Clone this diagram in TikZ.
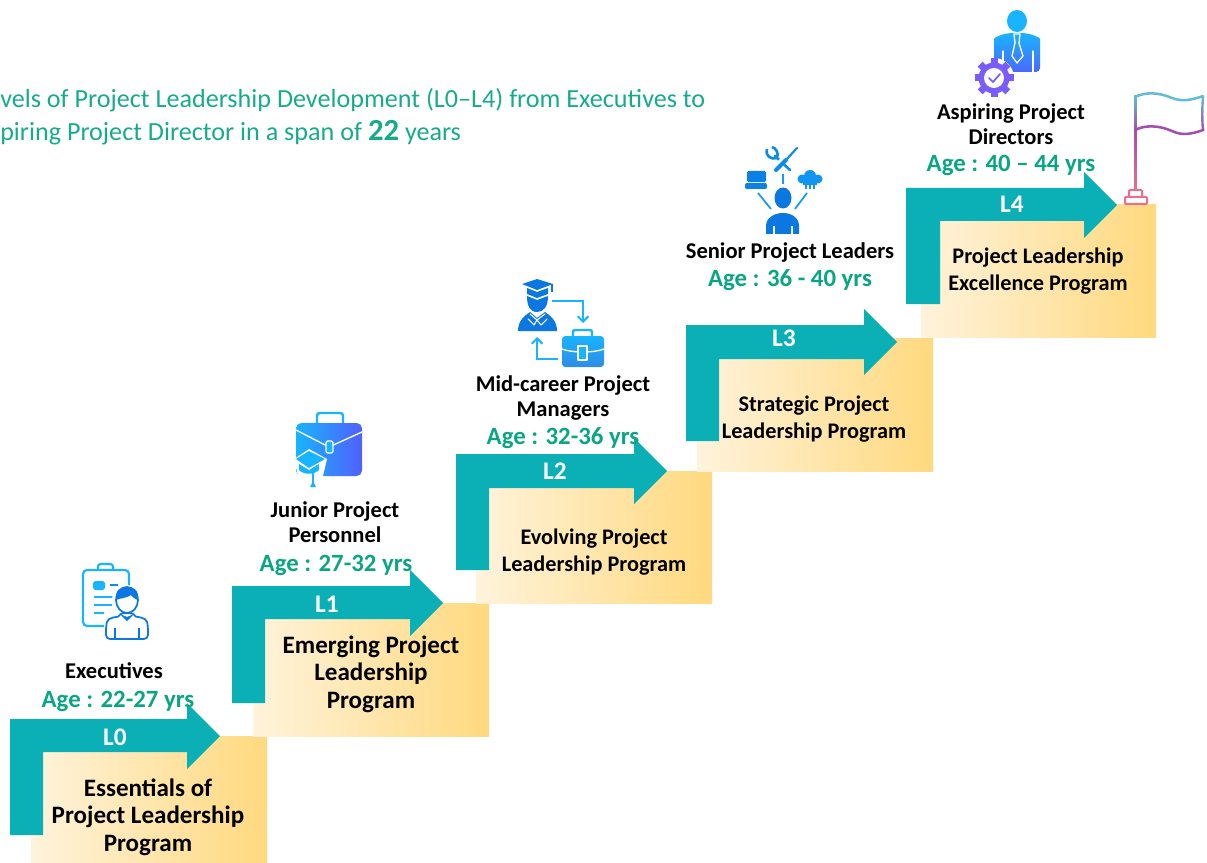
\documentclass[tikz,border=0pt]{standalone}
\usepackage{fontspec}
\setmainfont{Carlito}
\usetikzlibrary{arrows.meta}
\definecolor{teal1}{HTML}{0AB0B5}
\definecolor{agegreen}{HTML}{0AA582}
\definecolor{titlegreen}{HTML}{17AB8C}
\definecolor{goldL}{HTML}{FFF3DC}
\definecolor{goldR}{HTML}{FFD97E}
\definecolor{iconA}{HTML}{18B4FF}
\definecolor{iconB}{HTML}{0A78E0}
\definecolor{iconC}{HTML}{5060FF}
\definecolor{gearc}{HTML}{7A5CFA}
\definecolor{pinkc}{HTML}{EE6C8C}
\definecolor{flagT}{HTML}{62BCD6}
\definecolor{flagM}{HTML}{A050AE}
\tikzset{
  goldbox/.style={left color=goldL,right color=goldR,draw=none},
  bentarrow/.style={fill=teal1,draw=none},
  lvl/.style={text=white,font=\fontsize{19}{20}\selectfont\bfseries,inner sep=0pt},
  who/.style={text=black,font=\fontsize{16.9}{19}\selectfont\bfseries,align=center,inner sep=0pt},
  age/.style={text=agegreen,font=\fontsize{18.6}{20}\selectfont\bfseries,inner sep=0pt},
  prog/.style={text=black,font=\fontsize{16.7}{20}\selectfont\bfseries,align=center,inner sep=0pt},
  progbig/.style={text=black,font=\fontsize{18.8}{20}\selectfont\bfseries,align=center,inner sep=0pt},
  ttl/.style={text=titlegreen,font=\fontsize{19.6}{20}\selectfont,anchor=west,inner sep=0pt},
  iconline/.style={draw=iconA,line width=1.6pt,fill=none,line cap=round,line join=round},
  wline/.style={draw=white,line width=1pt,line cap=round,line join=round},
  flagline/.style={line width=1.9pt,line cap=round,line join=round},
}
\begin{document}
\begin{tikzpicture}[x=0.75pt,y=-0.75pt]
\useasboundingbox (0,0) rectangle (1207,863);
\clip (0,0) rectangle (1207,863);
% Gold boxes
\path[goldbox] (31,736) rectangle (267,863);
\path[goldbox] (253,603) rectangle (489,736);
\path[goldbox] (476,471) rectangle (712,603);
\path[goldbox] (697,338) rectangle (933,471);
\path[goldbox] (921,205) rectangle (1156,337);
% Bent arrows
\fill[bentarrow] (10,719) -- (187,719) -- (187,703) -- (220,736) -- (187,769) -- (187,752) -- (43,752) -- (43,835) -- (10,835) -- cycle;
\fill[bentarrow] (232,586) -- (410,586) -- (410,570) -- (443,603) -- (410,636) -- (410,619) -- (265,619) -- (265,703) -- (232,703) -- cycle;
\fill[bentarrow] (456,454) -- (634,454) -- (634,438) -- (667,471) -- (634,504) -- (634,488) -- (489,488) -- (489,570) -- (456,570) -- cycle;
\fill[bentarrow] (686,325) -- (864,325) -- (864,309) -- (897,342) -- (864,375) -- (864,359) -- (719,359) -- (719,441) -- (686,441) -- cycle;
\fill[bentarrow] (906,188) -- (1084,188) -- (1084,172) -- (1117,205) -- (1084,238) -- (1084,221) -- (940,221) -- (940,304) -- (906,304) -- cycle;
% Level labels
\node[lvl] (l0) at (115,737) {L0};
\node[lvl] (l1) at (327,604) {L1};
\node[lvl] (l2) at (555,471) {L2};
\node[lvl] (l3) at (784,338) {L3};
\node[lvl] (l4) at (1012,204) {L4};
% Programme labels
\node[progbig] (p0) at (148,817) {Essentials of\\[0.5pt]Project Leadership\\[0.5pt]Program};
\node[progbig] (p1) at (371,674) {Emerging Project\\[0.5pt]Leadership\\[0.5pt]Program};
\node[prog] (p2) at (594,552) {Evolving Project\\[0.2pt]Leadership Program};
\node[prog] (p3) at (814,419) {Strategic Project\\[0.2pt]Leadership Program};
\node[prog] (p4) at (1038,271.5) {Project Leadership\\[0.2pt]Excellence Program};
% Who
\node[who] (w0) at (114,670.5) {Executives};
\node[who] (w1) at (335,522) {Junior Project\\Personnel};
\node[who] (w2) at (563,398) {Mid-career Project\\Managers};
\node[who] (w3) at (790,252) {Senior Project Leaders};
\node[who] (w4) at (1011,124) {Aspiring Project\\Directors};
% Age
\node[age] (a0) at (118,701) {Age : 22-27 yrs};
\node[age] (a1) at (336,565) {Age : 27-32 yrs};
\node[age] (a2) at (563,438) {Age : 32-36 yrs};
\node[age] (a3) at (790,280) {Age : 36 - 40 yrs};
\node[age] (a4) at (1011,165) {Age : 40 – 44 yrs};
% Title
\node[ttl] (t1) at (0,100) {vels of Project Leadership Development (L0–L4) from Executives to};
\node[ttl] (t2) at (0,133) {piring Project Director in a span of {\fontsize{23}{24}\selectfont\bfseries 22} years};
% Icon L0: clipboard and person
\draw[iconline,rounded corners=3pt] (83,570) rectangle (129,626);
\draw[iconline,rounded corners=2pt] (98,570) -- (98,564) -- (113,564) -- (113,570);
\fill[iconA,rounded corners=2pt] (93,581) rectangle (105,590);
\draw[iconB!70!iconA,line width=1.2pt] (110,585) -- (118,585);
\draw[iconA,line width=1.2pt] (94,597) -- (116,597) (94,605) -- (112,605) (94,613) -- (108,613);
\fill[white] (127,600) circle (15);
\path[fill=white] (104,639) rectangle (149,612);
\draw[iconB,line width=1.3pt,fill=white,rounded corners=3pt] (106,639) -- (106,626) .. controls (108,617) and (118,617) .. (120,613) -- (134,613) .. controls (136,617) and (146,617) .. (148,626) -- (148,639) -- cycle;
\draw[iconB,line width=1.3pt,fill=white] (127,600) ellipse (11 and 13);
\fill[iconB] (116,600) .. controls (115,590) and (120,587) .. (127,587) .. controls (134,587) and (139,590) .. (138,600) .. controls (134,599) and (132,596) .. (131,595) .. controls (127,598) and (121,598) .. (116,600) -- cycle;
\draw[iconB,line width=1.2pt] (115,639) -- (115,628) (139,639) -- (139,628);
\fill[iconB] (120,614) -- (127,621) -- (134,614) -- (127,617) -- cycle;
% Icon L1: briefcase and cap
\draw[draw=iconA,line width=1.8pt,rounded corners=2pt] (317,423) -- (317,413) -- (343,413) -- (343,423);
\path[left color=iconA,right color=iconC,rounded corners=4pt] (296,423) rectangle (362,476);
\draw[wline] (296,430) -- (329,447) -- (362,432);
\draw[wline,fill=iconA,rounded corners=1.5pt] (326,441) rectangle (333,453);
\path[fill=white] (294,459) -- (309,449) -- (327,459) -- (322,480) -- (299,480) -- cycle;
\path[fill=white] (309,476) rectangle (318,490);
\fill[iconA] (309,451) -- (325,459) -- (309,468) -- (296,459) -- cycle;
\fill[iconA] (299,464) -- (309,470) -- (319,464) -- (319,470) .. controls (314,475) and (304,475) .. (299,470) -- cycle;
\draw[iconA,line width=1.5pt] (313,470) -- (313,484);
\fill[iconA] (313,481) -- (310,487) -- (316,487) -- cycle;
% Icon L2: graduate, briefcase, arrows
\fill[iconB] (537,279) -- (553,284) -- (537,290) -- (522,284) -- cycle;
\fill[iconB] (527,288) -- (537,292) -- (548,288) -- (548,294) -- (537,298) -- (527,294) -- cycle;
\draw[iconB,line width=.8pt] (552,284) -- (552,292);
\fill[iconB] (527,296) -- (537,300) -- (548,296) .. controls (548,306) and (544,312) .. (537,312) .. controls (530,312) and (527,306) .. (527,296) -- cycle;
\fill[iconB] (518,331) .. controls (518,321) and (524,316) .. (530,312) -- (537,318) -- (545,312) .. controls (551,316) and (557,321) .. (557,331) -- cycle;
\draw[wline,line width=.8pt] (530,314) -- (537,320) -- (534,325) -- (528,319) (545,314) -- (537,320) -- (541,325) -- (547,319);
\draw[iconA,line width=1.5pt,-{Straight Barb[length=4pt,width=8pt]}] (552,301) -- (583,301) -- (583,323);
\draw[iconA,line width=1.5pt,-{Straight Barb[length=4pt,width=8pt]}] (558,359) -- (537,359) -- (537,337);
\draw[iconA,line width=1.8pt,rounded corners=1.5pt] (573,336) -- (573,330) -- (592,330) -- (592,336);
\path[top color=iconA,bottom color=iconB!85,rounded corners=2.5pt] (562,336) rectangle (604,367);
\draw[wline] (562,349) .. controls (572,353) and (594,353) .. (604,349);
\draw[wline,fill=iconA] (578,346) rectangle (587,360);
% Icon L3: person with tools
\fill[iconB] (783,198) ellipse (8.5 and 10.5);
\fill[iconB] (766,234) -- (766,226) .. controls (766,218) and (774,213) .. (783,213) .. controls (792,213) and (799,218) .. (799,226) -- (799,234) -- (793,234) -- (793,226) -- (791,226) -- (791,234) -- (775,234) -- (775,226) -- (773,226) -- (773,234) -- cycle;
\draw[iconA!60!iconB,line width=1.3pt] (783,174) -- (783,184) (758,193) -- (771,209) (807,193) -- (795,209);
\fill[iconB!85!iconA,rounded corners=1pt] (747,171) rectangle (766,182);
\fill[iconB!85!iconA,rounded corners=1.5pt] (745,183) rectangle (767,189);
\fill[iconA!50!iconB] (802,179) circle (4.5) (818,179) circle (4.5) (810,176) circle (6);
\fill[iconA!50!iconB] (803,180) rectangle (817,185);
\draw[iconA!50!iconB,line width=1.4pt] (806,184) -- (806,189) (810,184) -- (810,189) (814,184) -- (814,189);
\draw[iconB!70!iconA,line width=1.9pt,line cap=round] (775,156) -- (790,170);
\draw[iconB!70!iconA,line width=2pt] (767,149) .. controls (765,156) and (771,160) .. (777,158) .. controls (779,153) and (776,148) .. (772,147);
\draw[white,line width=2.6pt] (771,170) -- (797,145);
\draw[iconB!70!iconA,line width=3pt,line cap=round] (776,170) -- (786,160);
\draw[iconB!70!iconA,line width=1.6pt,line cap=round] (786,160) -- (797,148);
% Icon L4: manager with gear
\fill[iconA] (1017,21) ellipse (10 and 11);
\path[top color=iconA,bottom color=iconC!90!iconA,rounded corners=3pt] (994,72) -- (994,43) .. controls (994,37) and (1004,34) .. (1010,33) -- (1024,33) .. controls (1030,34) and (1040,37) .. (1040,43) -- (1040,72) -- cycle;
\draw[wline] (1014,34) -- (1020,34) -- (1019,43) -- (1023,56) -- (1017,63) -- (1012,56) -- (1015,43) -- cycle;
\draw[wline] (1003,72) -- (1003,51) (1033,72) -- (1033,51);
\fill[white] (994,78) circle (20);
\foreach \a in {0,45,...,315}{\fill[gearc] (994,78) ++(\a:15) ++(\a+90:3.5) -- ++(\a:4.5) -- ++(\a-90:7) -- ++(\a:-4.5) -- cycle;}
\fill[gearc] (994,78) circle (15.5);
\fill[white] (994,78) circle (10);
\draw[gearc,line width=1.3pt,line cap=round,line join=round] (989,78) -- (993,82) -- (1000,74);
% Flag
\shade[top color=flagM,bottom color=pinkc] (1134,130) rectangle (1136.4,190);
\shade[top color=flagT,bottom color=flagM] (1134,96) rectangle (1136.4,130.5);
\draw[flagline,draw=flagT] (1135,97) .. controls (1145,92) and (1158,92) .. (1172,98) .. controls (1182,102) and (1192,100) .. (1203,96);
\shade[top color=flagT,bottom color=flagM] (1201.8,96) .. controls (1201,108) and (1200.6,120) .. (1202,131) -- (1204.4,131) .. controls (1203,120) and (1203.4,108) .. (1204.2,96) -- cycle;
\draw[flagline,draw=flagM] (1135,130) .. controls (1145,125) and (1158,125) .. (1172,131) .. controls (1182,136) and (1192,134) .. (1203,130);
\draw[draw=pinkc,line width=1.5pt,fill=white,rounded corners=.8pt] (1129,197) -- (1129,190) -- (1142,190) -- (1142,197);
\draw[draw=pinkc,line width=1.5pt,fill=white,rounded corners=.8pt] (1125,197) rectangle (1147,204);
\end{tikzpicture}
\end{document}
